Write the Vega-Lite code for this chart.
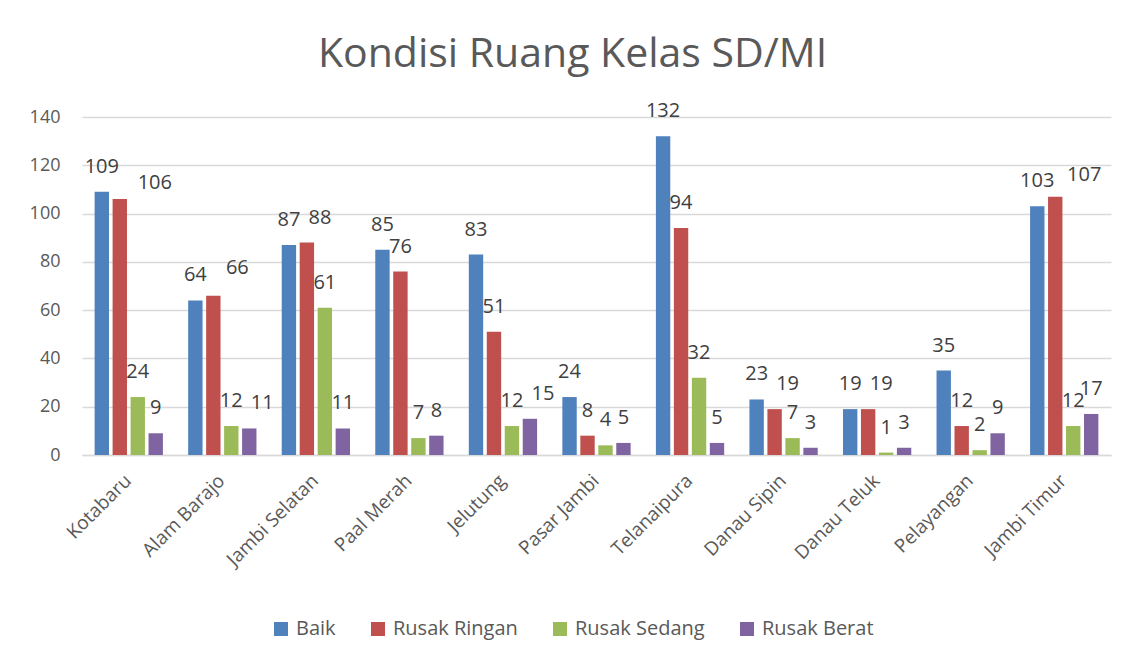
{
  "$schema": "https://vega.github.io/schema/vega-lite/v6.json",
  "width": 1029,
  "height": 338,
  "autosize": {"type": "none"},
  "padding": {"left": 82, "top": 117, "right": 21, "bottom": 209},
  "background": "white",
  "title": {
    "text": "Kondisi Ruang Kelas SD/MI",
    "fontSize": 41,
    "font": "Open Sans",
    "fontWeight": "normal",
    "color": "#595959",
    "anchor": "middle",
    "dx": -24,
    "offset": 25
  },
  "data": {
    "values": [
      {"kec": "Kotabaru", "kondisi": "Baik", "jumlah": 109},
      {"kec": "Kotabaru", "kondisi": "Rusak Ringan", "jumlah": 106},
      {"kec": "Kotabaru", "kondisi": "Rusak Sedang", "jumlah": 24},
      {"kec": "Kotabaru", "kondisi": "Rusak Berat", "jumlah": 9},
      {"kec": "Alam Barajo", "kondisi": "Baik", "jumlah": 64},
      {"kec": "Alam Barajo", "kondisi": "Rusak Ringan", "jumlah": 66},
      {"kec": "Alam Barajo", "kondisi": "Rusak Sedang", "jumlah": 12},
      {"kec": "Alam Barajo", "kondisi": "Rusak Berat", "jumlah": 11},
      {"kec": "Jambi Selatan", "kondisi": "Baik", "jumlah": 87},
      {"kec": "Jambi Selatan", "kondisi": "Rusak Ringan", "jumlah": 88},
      {"kec": "Jambi Selatan", "kondisi": "Rusak Sedang", "jumlah": 61},
      {"kec": "Jambi Selatan", "kondisi": "Rusak Berat", "jumlah": 11},
      {"kec": "Paal Merah", "kondisi": "Baik", "jumlah": 85},
      {"kec": "Paal Merah", "kondisi": "Rusak Ringan", "jumlah": 76},
      {"kec": "Paal Merah", "kondisi": "Rusak Sedang", "jumlah": 7},
      {"kec": "Paal Merah", "kondisi": "Rusak Berat", "jumlah": 8},
      {"kec": "Jelutung", "kondisi": "Baik", "jumlah": 83},
      {"kec": "Jelutung", "kondisi": "Rusak Ringan", "jumlah": 51},
      {"kec": "Jelutung", "kondisi": "Rusak Sedang", "jumlah": 12},
      {"kec": "Jelutung", "kondisi": "Rusak Berat", "jumlah": 15},
      {"kec": "Pasar Jambi", "kondisi": "Baik", "jumlah": 24},
      {"kec": "Pasar Jambi", "kondisi": "Rusak Ringan", "jumlah": 8},
      {"kec": "Pasar Jambi", "kondisi": "Rusak Sedang", "jumlah": 4},
      {"kec": "Pasar Jambi", "kondisi": "Rusak Berat", "jumlah": 5},
      {"kec": "Telanaipura", "kondisi": "Baik", "jumlah": 132},
      {"kec": "Telanaipura", "kondisi": "Rusak Ringan", "jumlah": 94},
      {"kec": "Telanaipura", "kondisi": "Rusak Sedang", "jumlah": 32},
      {"kec": "Telanaipura", "kondisi": "Rusak Berat", "jumlah": 5},
      {"kec": "Danau Sipin", "kondisi": "Baik", "jumlah": 23},
      {"kec": "Danau Sipin", "kondisi": "Rusak Ringan", "jumlah": 19},
      {"kec": "Danau Sipin", "kondisi": "Rusak Sedang", "jumlah": 7},
      {"kec": "Danau Sipin", "kondisi": "Rusak Berat", "jumlah": 3},
      {"kec": "Danau Teluk", "kondisi": "Baik", "jumlah": 19},
      {"kec": "Danau Teluk", "kondisi": "Rusak Ringan", "jumlah": 19},
      {"kec": "Danau Teluk", "kondisi": "Rusak Sedang", "jumlah": 1},
      {"kec": "Danau Teluk", "kondisi": "Rusak Berat", "jumlah": 3},
      {"kec": "Pelayangan", "kondisi": "Baik", "jumlah": 35},
      {"kec": "Pelayangan", "kondisi": "Rusak Ringan", "jumlah": 12},
      {"kec": "Pelayangan", "kondisi": "Rusak Sedang", "jumlah": 2},
      {"kec": "Pelayangan", "kondisi": "Rusak Berat", "jumlah": 9},
      {"kec": "Jambi Timur", "kondisi": "Baik", "jumlah": 103},
      {"kec": "Jambi Timur", "kondisi": "Rusak Ringan", "jumlah": 107},
      {"kec": "Jambi Timur", "kondisi": "Rusak Sedang", "jumlah": 12},
      {"kec": "Jambi Timur", "kondisi": "Rusak Berat", "jumlah": 17}
    ]
  },
  "encoding": {
    "x": {
      "field": "kec",
      "type": "nominal",
      "sort": null,
      "title": null,
      "scale": {"paddingInner": 0.27, "paddingOuter": 0.135},
      "axis": {
        "labelAngle": -45,
        "labelFontSize": 19,
        "labelFont": "Open Sans",
        "labelColor": "#595959",
        "labelPadding": 16,
        "labelOffset": -7,
        "ticks": false,
        "domainColor": "#D9D9D9",
        "domainWidth": 1.5
      }
    },
    "xOffset": {
      "field": "kondisi",
      "type": "nominal",
      "sort": ["Baik", "Rusak Ringan", "Rusak Sedang", "Rusak Berat"],
      "scale": {"paddingInner": 0.2}
    },
    "y": {
      "field": "jumlah",
      "type": "quantitative",
      "title": null,
      "scale": {"domain": [0, 140]},
      "axis": {
        "values": [0, 20, 40, 60, 80, 100, 120, 140],
        "labelFontSize": 18,
        "labelFont": "Open Sans",
        "labelColor": "#595959",
        "labelPadding": 22,
        "ticks": false,
        "domain": false,
        "gridColor": "#D9D9D9",
        "gridWidth": 1.5
      }
    },
    "color": {
      "field": "kondisi",
      "type": "nominal",
      "sort": ["Baik", "Rusak Ringan", "Rusak Sedang", "Rusak Berat"],
      "scale": {
        "domain": ["Baik", "Rusak Ringan", "Rusak Sedang", "Rusak Berat"],
        "range": ["#4F81BD", "#C0504D", "#9BBB59", "#8064A2"]
      },
      "legend": {
        "title": null,
        "orient": "none",
        "legendX": 189,
        "legendY": 502,
        "direction": "horizontal",
        "symbolType": "square",
        "symbolSize": 196,
        "symbolStrokeWidth": 0,
        "symbolOffset": 0,
        "labelOffset": 5,
        "labelFontSize": 20,
        "labelFont": "Open Sans",
        "labelColor": "#595959",
        "columnPadding": 32
      }
    }
  },
  "layer": [
    {"mark": {"type": "bar"}},
    {
      "transform": [{"filter": "!((datum.kondisi == 'Rusak Ringan' && (datum.kec == 'Kotabaru' || datum.kec == 'Alam Barajo' || datum.kec == 'Jambi Timur' || datum.kec == 'Jambi Selatan' || datum.kec == 'Danau Sipin' || datum.kec == 'Danau Teluk')) || (datum.kondisi == 'Rusak Berat' && (datum.kec == 'Alam Barajo' || datum.kec == 'Jelutung')))"}],
      "mark": {"type": "text", "baseline": "middle", "dy": -25, "fontSize": 20, "font": "Open Sans", "color": "#404040"},
      "encoding": {"text": {"field": "jumlah", "type": "quantitative"}, "color": {"value": "#404040"}}
    },
    {
      "transform": [{"filter": "(datum.kondisi == 'Rusak Ringan' && (datum.kec == 'Jambi Selatan' || datum.kec == 'Danau Sipin' || datum.kec == 'Danau Teluk')) || (datum.kondisi == 'Rusak Berat' && (datum.kec == 'Alam Barajo' || datum.kec == 'Jelutung'))"}],
      "mark": {"type": "text", "baseline": "middle", "dx": 13, "dy": -25, "fontSize": 20, "font": "Open Sans", "color": "#404040"},
      "encoding": {"text": {"field": "jumlah", "type": "quantitative"}, "color": {"value": "#404040"}}
    },
    {
      "transform": [{"filter": "datum.kec == 'Alam Barajo' && datum.kondisi == 'Rusak Ringan'"}],
      "mark": {"type": "text", "baseline": "middle", "dx": 24, "dy": -28, "fontSize": 20, "font": "Open Sans", "color": "#404040"},
      "encoding": {"text": {"field": "jumlah", "type": "quantitative"}, "color": {"value": "#404040"}}
    },
    {
      "transform": [{"filter": "datum.kec == 'Jambi Timur' && datum.kondisi == 'Rusak Ringan'"}],
      "mark": {"type": "text", "baseline": "middle", "dx": 29, "dy": -22, "fontSize": 20, "font": "Open Sans", "color": "#404040"},
      "encoding": {"text": {"field": "jumlah", "type": "quantitative"}, "color": {"value": "#404040"}}
    },
    {
      "transform": [{"filter": "datum.kec == 'Kotabaru' && datum.kondisi == 'Rusak Ringan'"}],
      "mark": {"type": "text", "baseline": "middle", "dx": 35, "dy": -16, "fontSize": 20, "font": "Open Sans", "color": "#404040"},
      "encoding": {"text": {"field": "jumlah", "type": "quantitative"}, "color": {"value": "#404040"}}
    }
  ],
  "config": {"view": {"stroke": null}}
}
